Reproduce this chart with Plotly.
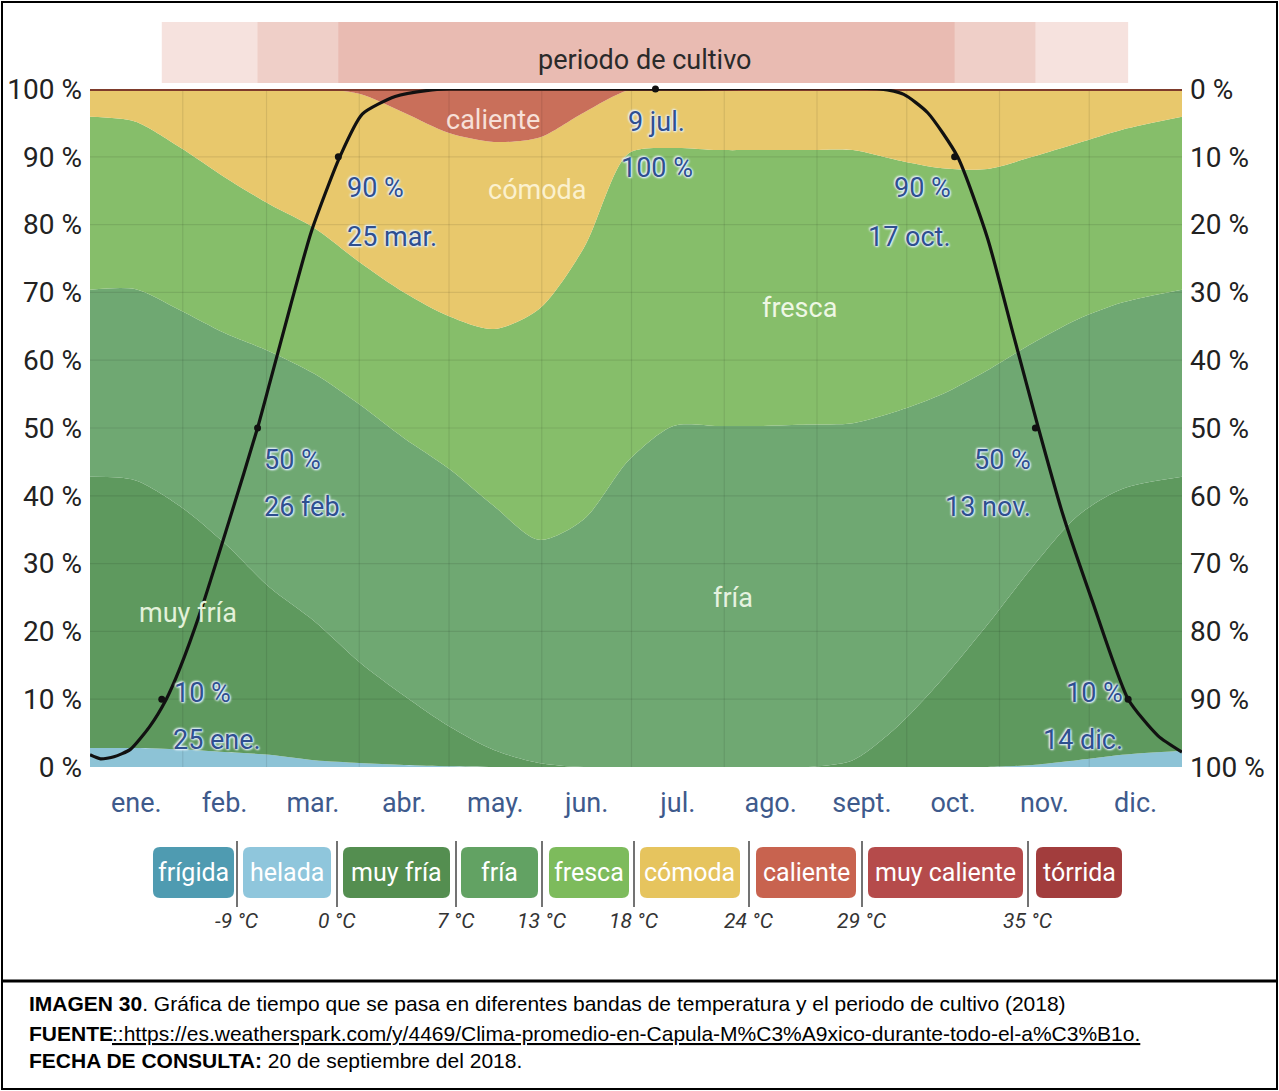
import plotly.graph_objects as go

# ---------------- data ----------------
days = [0, 15, 30, 45, 60, 75, 90, 105, 120, 135, 150, 165, 180, 195, 210,
        225, 240, 255, 270, 285, 300, 315, 330, 345, 365]
# cumulative tops of each temperature band (% of time)
helada_top = [2.8, 2.8, 2.6, 2.2, 1.8, 1.0, 0.6, 0.3, 0.1, 0, 0, 0, 0, 0, 0,
              0, 0, 0, 0, 0, 0, 0.3, 1.0, 1.8, 2.4]
muyfria_top = [42.8, 42.3, 38.5, 33, 26.5, 21.5, 15.5, 10.5, 6, 2.5, 0.6, 0, 0, 0, 0,
               0, 0, 1.0, 6, 13, 21, 29.5, 37, 41, 42.8]
fria_top = [70.4, 70.5, 67.4, 64, 61.3, 58, 53.5, 48.5, 44, 38.5, 33.5, 36.5, 45.2, 50.3, 50.3,
            50.3, 50.5, 50.7, 52.5, 55, 58.5, 62.5, 66, 68.5, 70.4]
fresca_top = [95.9, 95.2, 91.4, 87, 83, 79.5, 74.5, 70, 66.5, 64.6, 67.5, 76.5, 90.5, 91.3, 91,
              91, 91, 91, 89.5, 88.3, 88.2, 90, 92, 94, 95.9]
comoda_top = [100, 100, 100, 100, 100, 100, 99.3, 96.5, 93.5, 92.2, 92.8, 96.5, 99.8, 100, 100,
              100, 100, 100, 100, 100, 100, 100, 100, 100, 100]
caliente_top = [100] * len(days)

# growing-season probability curve
gs_days = [0, 3.5, 8, 13.5, 20, 25.5, 30, 37, 47, 56, 60, 67, 74, 83.5, 91, 102, 113, 120,
           190, 264, 272, 280, 290, 300, 308.5, 317, 325, 335, 347, 357, 365]
gs_pct = [1.8, 1.2, 1.5, 2.6, 6, 10, 14.5, 23, 37, 50, 56.5, 68, 79, 90, 96.3, 98.9, 99.8, 100,
          100, 100, 99.2, 96.5, 90, 78, 64, 50, 37.5, 24.5, 10, 4.6, 2.2]
# marked points on the curve
mark_days = [24, 56, 83, 189, 289, 316, 347]
mark_pct = [10, 50, 90, 100, 90, 50, 10]
# growing-season bands (10 %, 50 %, 90 % limits)
season_start = [24, 56, 83]
season_end = [347, 316, 289]
season_colors = ["#f6e2de", "#efcfc8", "#e9bbb2"]

month_starts = [0, 31, 59, 90, 120, 151, 181, 212, 243, 273, 304, 334, 365]
month_labels = ["ene.", "feb.", "mar.", "abr.", "may.", "jun.", "jul.", "ago.", "sept.", "oct.", "nov.", "dic."]
pct_ticks = [0, 10, 20, 30, 40, 50, 60, 70, 80, 90, 100]

legend_names = ["frígida", "helada", "muy fría", "fría", "fresca", "cómoda", "caliente", "muy caliente", "tórrida"]
legend_colors = ["#4f9bb1", "#8fc6dc", "#548e50", "#62a263", "#7dbb5c", "#e6c45e", "#c8634f", "#b54b4b", "#a23d3d"]
thresholds = ["-9 °C", "0 °C", "7 °C", "13 °C", "18 °C", "24 °C", "29 °C", "35 °C"]

# ---------------- figure ----------------
W, H = 1279, 1091
NARROW = "Roboto, Liberation Sans Narrow, sans-serif"


def px(x):
    return x / W


def py(y):
    return 1 - y / H


fig = go.Figure()

band_specs = [
    ("helada", helada_top, "#8dc3d6"),
    ("muy fría", muyfria_top, "#5e995e"),
    ("fría", fria_top, "#6fa872"),
    ("fresca", fresca_top, "#86be6a"),
    ("cómoda", comoda_top, "#e8c86c"),
    ("caliente", caliente_top, "#c96f5a"),
]
for i, (name, top, col) in enumerate(band_specs):
    fig.add_trace(go.Scatter(
        x=days, y=top, mode="lines", name=name,
        line=dict(width=0, shape="spline", smoothing=0.8, color=col),
        fill="tozeroy" if i == 0 else "tonexty", fillcolor=col,
        hoverinfo="skip", showlegend=False))

# grid lines (drawn above the fills)
gx, gy = [], []
for d in month_starts[1:-1]:
    gx += [d, d, None]
    gy += [0, 100, None]
for p in pct_ticks[1:-1]:
    gx += [0, 365, None]
    gy += [p, p, None]
fig.add_trace(go.Scatter(x=gx, y=gy, mode="lines", line=dict(color="rgba(0,0,0,0.09)", width=1.2),
                         hoverinfo="skip", showlegend=False))

# top border line at 100 %
fig.add_trace(go.Scatter(x=[0, 365], y=[100, 100], mode="lines",
                         line=dict(color="#7e3b2c", width=4), hoverinfo="skip", showlegend=False))

# growing season curve
fig.add_trace(go.Scatter(x=gs_days, y=gs_pct, mode="lines",
                         line=dict(color="#111111", width=3.2, shape="spline", smoothing=0.6),
                         hoverinfo="skip", showlegend=False))
fig.add_trace(go.Scatter(x=mark_days, y=mark_pct, mode="markers",
                         marker=dict(color="#111111", size=7), hoverinfo="skip", showlegend=False,
                         cliponaxis=False))

# growing period band on top
for s, e, c in zip(season_start, season_end, season_colors):
    fig.add_trace(go.Bar(x=[e - s], base=[s], y=[0], orientation="h", width=1,
                         marker=dict(color=c, line=dict(width=0)), xaxis="x", yaxis="y3",
                         hoverinfo="skip", showlegend=False))

fig.add_trace(go.Scatter(x=[0, 365], y=[0, 100], mode="markers", marker=dict(opacity=0),
                         yaxis="y2", hoverinfo="skip", showlegend=False))

xd = [px(90), px(1182)]
yd = [py(767), py(89)]

fig.update_layout(
    template="none",
    width=W, height=H, autosize=False,
    margin=dict(l=0, r=0, t=0, b=0, pad=0, autoexpand=False),
    paper_bgcolor="white", plot_bgcolor="white",
    barmode="overlay",
    xaxis=dict(domain=xd, range=[0, 365], showgrid=False, zeroline=False, automargin=False,
               showline=False,
               tickvals=[(month_starts[i] + month_starts[i + 1]) / 2 for i in range(12)],
               ticktext=month_labels, ticks="", ticklabelstandoff=17,
               tickfont=dict(family=NARROW, size=27, color="#3e5a8c"), anchor="y"),
    yaxis=dict(domain=yd, range=[0, 100], showgrid=False, zeroline=False, automargin=False,
               showline=False,
               tickvals=pct_ticks, ticktext=[f"{p} %" for p in pct_ticks], ticks="",
               ticklabelstandoff=7, tickfont=dict(family=NARROW, size=28, color="#222")),
    yaxis2=dict(domain=yd, range=[100, 0], overlaying="y", side="right", showgrid=False,
                zeroline=False, automargin=False, showline=False,
                tickvals=pct_ticks, ticktext=[f"{p} %" for p in pct_ticks],
                ticks="", ticklabelstandoff=7, tickfont=dict(family=NARROW, size=28, color="#222")),
    yaxis3=dict(domain=[py(83), py(22)], range=[-0.5, 0.5], showgrid=False, zeroline=False,
                showticklabels=False, anchor="x", automargin=False, showline=False),
)

ann = []
# band labels
for txt, d, p, col in [("caliente", 134.7, 95.4, "#f7e0d8"), ("cómoda", 149.7, 85.1, "#fbf1cf"),
                       ("fresca", 237.3, 67.7, "#eef7e4"), ("fría", 214.9, 24.9, "#e6f2e0"),
                       ("muy fría", 32.8, 22.7, "#e3f1da")]:
    ann.append(dict(x=d, y=p, xref="x", yref="y", text=txt, showarrow=False,
                    xanchor="center", yanchor="middle",
                    font=dict(family=NARROW, size=27, color=col)))

halo = "0px 0px 3px #e4f1ff, 0px 0px 2px #e4f1ff, 1px 1px 2px #e4f1ff, -1px -1px 2px #e4f1ff"
for txt, d, p, anc in [("90 %", 85.2, 85.4, "left"), ("25 mar.", 85.2, 78.2, "left"),
                       ("50 %", 57.5, 45.3, "left"), ("26 feb.", 57.5, 38.3, "left"),
                       ("10 %", 27.4, 10.9, "left"), ("25 ene.", 27.0, 4.0, "left"),
                       ("9 jul.", 189.5, 95.1, "center"), ("100 %", 189.5, 88.3, "center"),
                       ("90 %", 288.4, 85.4, "right"), ("17 oct.", 288.4, 78.2, "right"),
                       ("50 %", 315.2, 45.3, "right"), ("13 nov.", 315.2, 38.3, "right"),
                       ("10 %", 345.9, 10.9, "right"), ("14 dic.", 345.9, 4.0, "right")]:
    ann.append(dict(x=d, y=p, xref="x", yref="y", text=txt, showarrow=False, xanchor=anc,
                    yanchor="middle",
                    font=dict(family=NARROW, size=27, color="#2f4f8f", shadow=halo)))

ann.append(dict(x=sum([season_start[0], season_end[0]]) / 2, y=py(60), xref="x", yref="paper",
                text="periodo de cultivo", showarrow=False, xanchor="center", yanchor="middle",
                font=dict(family=NARROW, size=27, color="#2a2a2a")))

# legend boxes
legend_px = [(153, 234), (243, 331), (343, 450), (461, 538), (549, 629), (640, 740),
             (756, 856), (868, 1023), (1036, 1122)]
sep_px = [237, 337, 456, 542, 634, 749, 862, 1028]
shapes = []


def rrect(x0, y0, x1, y1, r=7):
    def P(x, y):
        return f"{px(x):.5f},{py(y):.5f}"
    return (f"M {P(x0 + r, y0)} L {P(x1 - r, y0)} Q {P(x1, y0)} {P(x1, y0 + r)} "
            f"L {P(x1, y1 - r)} Q {P(x1, y1)} {P(x1 - r, y1)} L {P(x0 + r, y1)} "
            f"Q {P(x0, y1)} {P(x0, y1 - r)} L {P(x0, y0 + r)} Q {P(x0, y0)} {P(x0 + r, y0)} Z")


for (x0, x1), name, col in zip(legend_px, legend_names, legend_colors):
    shapes.append(dict(type="path", xref="paper", yref="paper", path=rrect(x0, 847, x1, 898),
                       fillcolor=col, line=dict(width=0)))
    ann.append(dict(x=px((x0 + x1) / 2), y=py(872), xref="paper", yref="paper", text=name,
                    xanchor="center", yanchor="middle",
                    showarrow=False, font=dict(family=NARROW, size=25, color="white")))
for s, t in zip(sep_px, thresholds):
    shapes.append(dict(type="line", xref="paper", yref="paper", x0=px(s), x1=px(s),
                       y0=py(841), y1=py(907), line=dict(color="#444", width=1.5)))
    ann.append(dict(x=px(s), y=py(921), xref="paper", yref="paper", text=f"<i>{t}</i>",
                    xanchor="center", yanchor="middle",
                    showarrow=False, font=dict(family=NARROW, size=21, color="#333")))

# frames
shapes.append(dict(type="rect", xref="paper", yref="paper", x0=px(2), x1=px(1277), y0=py(1089), y1=py(2),
                   line=dict(color="black", width=2)))
shapes.append(dict(type="line", xref="paper", yref="paper", x0=px(2), x1=px(1277), y0=py(981), y1=py(981),
                   line=dict(color="black", width=3)))

# caption
CAP = "Liberation Sans, Arial, sans-serif"
CS = 21
ann.append(dict(x=px(27), y=py(1003), xref="paper", yref="paper", xanchor="left", yanchor="middle",
                showarrow=False,
                text="<b>IMAGEN 30</b>. Gráfica de tiempo que se pasa en diferentes bandas de temperatura y el periodo de cultivo (2018)",
                font=dict(family=CAP, size=CS, color="black")))
ann.append(dict(x=px(27), y=py(1033), xref="paper", yref="paper", xanchor="left", yanchor="middle",
                showarrow=False, text="<b>FUENTE</b>", font=dict(family=CAP, size=CS, color="black")))
ann.append(dict(x=px(110), y=py(1033), xref="paper", yref="paper", xanchor="left", yanchor="middle",
                showarrow=False,
                text="::https://es.weatherspark.com/y/4469/Clima-promedio-en-Capula-M%C3%A9xico-durante-todo-el-a%C3%B1o.",
                font=dict(family=CAP, size=CS, color="black", lineposition="under")))
ann.append(dict(x=px(27), y=py(1060), xref="paper", yref="paper", xanchor="left", yanchor="middle",
                showarrow=False,
                text="<b>FECHA DE CONSULTA:</b> 20 de septiembre del 2018.",
                font=dict(family=CAP, size=CS, color="black")))

fig.update_layout(annotations=ann, shapes=shapes)
fig.write_html("out.html", config={"displayModeBar": False},
               post_script="document.body.style.margin='0px';document.body.style.overflow='hidden';")
